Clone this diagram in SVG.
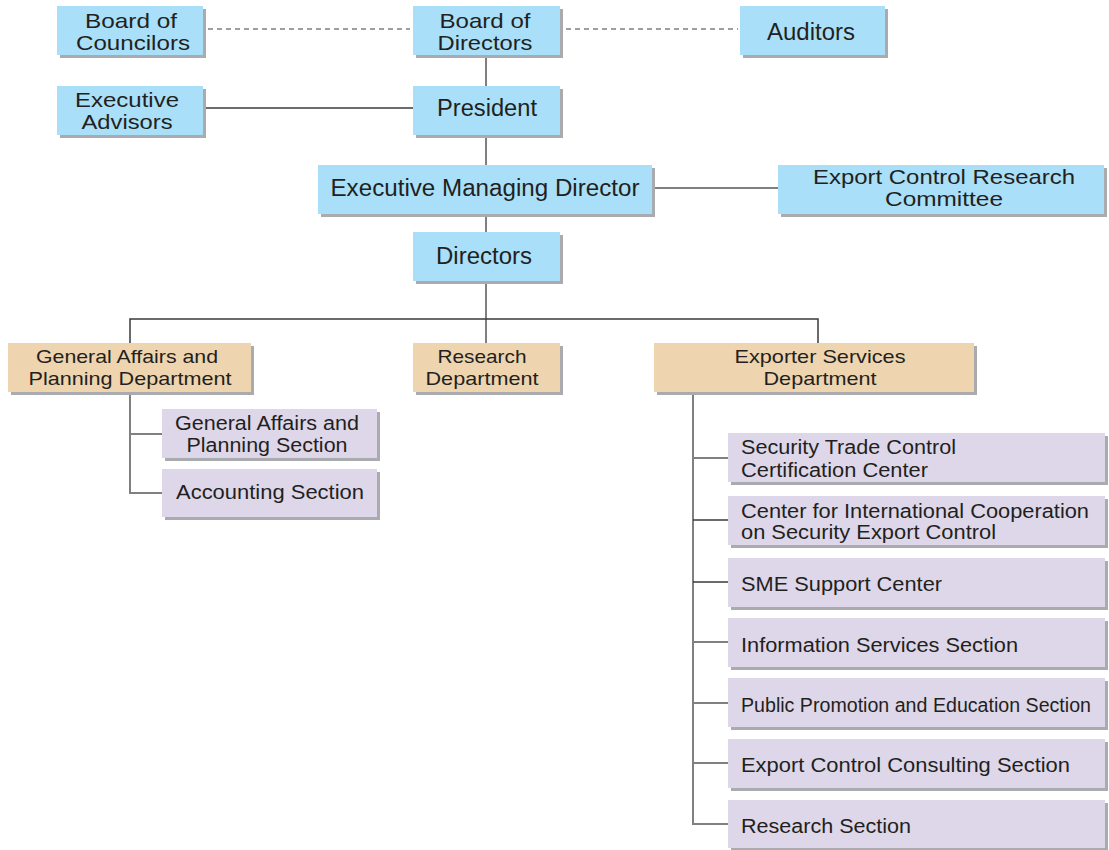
<svg xmlns="http://www.w3.org/2000/svg" width="1109" height="850" viewBox="0 0 1109 850">
<defs>
<style>
.sh{fill:#a9abae}
.blue{fill:#a9dff8}
.tan{fill:#eed5af}
.lav{fill:#ddd7e9}
text{font-family:"Liberation Sans",Arial,sans-serif;fill:#231f20}
.t1{font-size:23px}
.t2{font-size:21px}
.td{font-size:19px}
.ts{font-size:20px}
.c{text-anchor:middle}
.v{stroke:#808080;stroke-width:2;fill:none}
.h{stroke:#3a3a3a;stroke-width:1.5;fill:none}
.d{stroke:#808080;stroke-width:1.5;stroke-dasharray:5 4;fill:none}
</style>
</defs>
<rect width="1109" height="850" fill="#fff"/>
<g id="connectors">
<line class="d" x1="208" y1="29" x2="410" y2="29"/>
<line class="d" x1="566" y1="29" x2="738" y2="29"/>
<line class="v" x1="486" y1="56" x2="486" y2="86"/>
<line class="v" x1="486" y1="136" x2="486" y2="165"/>
<line class="v" x1="486" y1="214" x2="486" y2="232"/>
<line class="v" x1="486" y1="281" x2="486" y2="343"/>
<line class="h" x1="205" y1="108" x2="413" y2="108"/>
<line class="v" x1="653" y1="188" x2="778" y2="188"/>
<polyline class="h" points="130,343 130,319 818,319 818,343"/>
<polyline class="v" points="130,392 130,493 162,493"/>
<line class="v" x1="130" y1="434" x2="162" y2="434"/>
<polyline class="v" points="693,392 693,824 728,824"/>
<line class="v" x1="693" y1="458" x2="728" y2="458"/>
<line class="h" x1="693" y1="520" x2="728" y2="520"/>
<line class="h" x1="693" y1="582" x2="728" y2="582"/>
<line class="v" x1="693" y1="642" x2="728" y2="642"/>
<line class="v" x1="693" y1="703" x2="728" y2="703"/>
<line class="v" x1="693" y1="763" x2="728" y2="763"/>
</g>
<g id="board-of-councilors">
<rect class="sh" x="60" y="9" width="146" height="49"/>
<rect class="blue" x="57" y="6" width="146" height="49"/>
<text class="t2 c" x="131" y="28" textLength="92" lengthAdjust="spacingAndGlyphs">Board of</text>
<text class="t2 c" x="133" y="50" textLength="114" lengthAdjust="spacingAndGlyphs">Councilors</text>
</g>
<g id="board-of-directors">
<rect class="sh" x="416" y="9" width="147" height="49"/>
<rect class="blue" x="413" y="6" width="147" height="49"/>
<text class="t2 c" x="485" y="28" textLength="91" lengthAdjust="spacingAndGlyphs">Board of</text>
<text class="t2 c" x="485" y="50" textLength="95" lengthAdjust="spacingAndGlyphs">Directors</text>
</g>
<g id="auditors">
<rect class="sh" x="743" y="9" width="145" height="49"/>
<rect class="blue" x="740" y="6" width="145" height="49"/>
<text class="t1 c" x="811" y="40" textLength="88" lengthAdjust="spacingAndGlyphs">Auditors</text>
</g>
<g id="executive-advisors">
<rect class="sh" x="60" y="89" width="146" height="49"/>
<rect class="blue" x="57" y="86" width="146" height="49"/>
<text class="t2 c" x="127" y="107" textLength="104" lengthAdjust="spacingAndGlyphs">Executive</text>
<text class="t2 c" x="127" y="129" textLength="91" lengthAdjust="spacingAndGlyphs">Advisors</text>
</g>
<g id="president">
<rect class="sh" x="416" y="89" width="147" height="49"/>
<rect class="blue" x="413" y="86" width="147" height="49"/>
<text class="t1 c" x="487" y="116" textLength="100" lengthAdjust="spacingAndGlyphs">President</text>
</g>
<g id="executive-managing-director">
<rect class="sh" x="321" y="168" width="334" height="49"/>
<rect class="blue" x="318" y="165" width="334" height="49"/>
<text class="t1 c" x="485" y="196" textLength="309" lengthAdjust="spacingAndGlyphs">Executive Managing Director</text>
</g>
<g id="export-control-research-committee">
<rect class="sh" x="781" y="168" width="326" height="49"/>
<rect class="blue" x="778" y="165" width="326" height="49"/>
<text class="t2 c" x="944" y="184" textLength="262" lengthAdjust="spacingAndGlyphs">Export Control Research</text>
<text class="t2 c" x="944" y="206" textLength="118" lengthAdjust="spacingAndGlyphs">Committee</text>
</g>
<g id="directors">
<rect class="sh" x="416" y="235" width="147" height="49"/>
<rect class="blue" x="413" y="232" width="147" height="49"/>
<text class="t1 c" x="484" y="264" textLength="96" lengthAdjust="spacingAndGlyphs">Directors</text>
</g>
<g id="general-affairs-dept">
<rect class="sh" x="11" y="346" width="243" height="49"/>
<rect class="tan" x="8" y="343" width="243" height="49"/>
<text class="td c" x="127" y="363" textLength="182" lengthAdjust="spacingAndGlyphs">General Affairs and</text>
<text class="td c" x="130" y="385" textLength="203" lengthAdjust="spacingAndGlyphs">Planning Department</text>
</g>
<g id="research-dept">
<rect class="sh" x="416" y="346" width="147" height="49"/>
<rect class="tan" x="413" y="343" width="147" height="49"/>
<text class="td c" x="482" y="363" textLength="89" lengthAdjust="spacingAndGlyphs">Research</text>
<text class="td c" x="482" y="385" textLength="113" lengthAdjust="spacingAndGlyphs">Department</text>
</g>
<g id="exporter-services-dept">
<rect class="sh" x="657" y="346" width="320" height="49"/>
<rect class="tan" x="654" y="343" width="320" height="49"/>
<text class="td c" x="820" y="363" textLength="171" lengthAdjust="spacingAndGlyphs">Exporter Services</text>
<text class="td c" x="820" y="385" textLength="113" lengthAdjust="spacingAndGlyphs">Department</text>
</g>
<g id="general-affairs-section">
<rect class="sh" x="165" y="412" width="215" height="49"/>
<rect class="lav" x="162" y="409" width="215" height="49"/>
<text class="ts c" x="267" y="430" textLength="184" lengthAdjust="spacingAndGlyphs">General Affairs and</text>
<text class="ts c" x="267" y="452" textLength="161" lengthAdjust="spacingAndGlyphs">Planning Section</text>
</g>
<g id="accounting-section">
<rect class="sh" x="165" y="472" width="215" height="48"/>
<rect class="lav" x="162" y="469" width="215" height="48"/>
<text class="ts" x="176" y="499" textLength="188" lengthAdjust="spacingAndGlyphs">Accounting Section</text>
</g>
<g id="security-trade-control">
<rect class="sh" x="731" y="436" width="377" height="49"/>
<rect class="lav" x="728" y="433" width="377" height="49"/>
<text class="ts" x="741" y="454" textLength="215" lengthAdjust="spacingAndGlyphs">Security Trade Control</text>
<text class="ts" x="741" y="477" textLength="187" lengthAdjust="spacingAndGlyphs">Certification Center</text>
</g>
<g id="center-international-cooperation">
<rect class="sh" x="731" y="499" width="377" height="49"/>
<rect class="lav" x="728" y="496" width="377" height="49"/>
<text class="ts" x="741" y="518" textLength="348" lengthAdjust="spacingAndGlyphs">Center for International Cooperation</text>
<text class="ts" x="741" y="539" textLength="255" lengthAdjust="spacingAndGlyphs">on Security Export Control</text>
</g>
<g id="sme-support-center">
<rect class="sh" x="731" y="561" width="377" height="49"/>
<rect class="lav" x="728" y="558" width="377" height="49"/>
<text class="ts" x="741" y="591" textLength="201" lengthAdjust="spacingAndGlyphs">SME Support Center</text>
</g>
<g id="information-services-section">
<rect class="sh" x="731" y="621" width="377" height="49"/>
<rect class="lav" x="728" y="618" width="377" height="49"/>
<text class="ts" x="741" y="652" textLength="277" lengthAdjust="spacingAndGlyphs">Information Services Section</text>
</g>
<g id="public-promotion-section">
<rect class="sh" x="731" y="681" width="377" height="49"/>
<rect class="lav" x="728" y="678" width="377" height="49"/>
<text class="ts" x="741" y="712" textLength="350" lengthAdjust="spacingAndGlyphs">Public Promotion and Education Section</text>
</g>
<g id="export-control-consulting-section">
<rect class="sh" x="731" y="742" width="377" height="49"/>
<rect class="lav" x="728" y="739" width="377" height="49"/>
<text class="ts" x="741" y="772" textLength="329" lengthAdjust="spacingAndGlyphs">Export Control Consulting Section</text>
</g>
<g id="research-section">
<rect class="sh" x="731" y="803" width="377" height="47"/>
<rect class="lav" x="728" y="800" width="377" height="48"/>
<text class="ts" x="741" y="833" textLength="170" lengthAdjust="spacingAndGlyphs">Research Section</text>
</g>
</svg>
